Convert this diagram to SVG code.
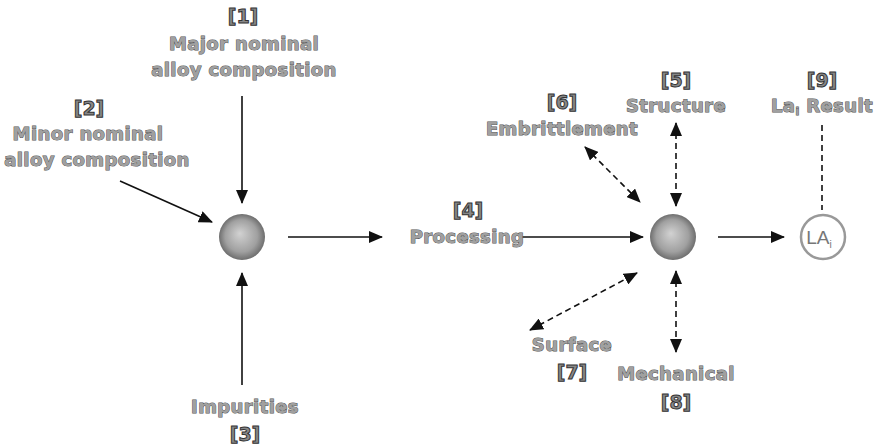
<svg xmlns="http://www.w3.org/2000/svg" width="875" height="447" viewBox="0 0 875 447">
<defs>
<radialGradient id="sph" cx="0.5" cy="0.5" r="0.5" fx="0.45" fy="0.42">
<stop offset="0" stop-color="#d2d2d2"/>
<stop offset="0.7" stop-color="#a0a0a0"/>
<stop offset="1" stop-color="#6e6e6e"/>
</radialGradient>
<marker id="ah" viewBox="0 0 14 12" refX="13" refY="6" markerWidth="14" markerHeight="12" markerUnits="userSpaceOnUse" orient="auto-start-reverse">
<path d="M0,0 L14,6 L0,12 Z" fill="#111"/>
</marker>
</defs>
<style>
.lbl{font-family:"DejaVu Sans",sans-serif;font-weight:bold;font-size:18px;letter-spacing:0.4px;fill:#a0a0a0;stroke:#555;stroke-width:1px;text-anchor:middle;paint-order:stroke}
.num{font-family:"DejaVu Sans",sans-serif;font-weight:bold;font-size:19px;fill:#888;stroke:#333;stroke-width:1px;text-anchor:middle}
.ln{stroke:#111;stroke-width:1.6;fill:none}
.dl{stroke:#111;stroke-width:1.6;fill:none;stroke-dasharray:6,4}
</style>
<rect width="875" height="447" fill="#fff"/>
<g id="connectors">
<line class="ln" x1="242" y1="96" x2="242" y2="203" marker-end="url(#ah)"/>
<line class="ln" x1="120" y1="181" x2="212" y2="222" marker-end="url(#ah)"/>
<line class="ln" x1="242" y1="385" x2="242" y2="273" marker-end="url(#ah)"/>
<line class="ln" x1="288" y1="237" x2="382" y2="237" marker-end="url(#ah)"/>
<line class="ln" x1="520" y1="237" x2="643" y2="237" marker-end="url(#ah)"/>
<line class="ln" x1="718" y1="237" x2="784" y2="237" marker-end="url(#ah)"/>
<line class="dl" x1="676" y1="123" x2="676" y2="206" marker-start="url(#ah)" marker-end="url(#ah)"/>
<line class="dl" x1="585" y1="147" x2="640" y2="202" marker-start="url(#ah)" marker-end="url(#ah)"/>
<line class="dl" x1="530" y1="330" x2="637" y2="273" marker-start="url(#ah)" marker-end="url(#ah)"/>
<line class="dl" x1="676" y1="271" x2="676" y2="352" marker-start="url(#ah)" marker-end="url(#ah)"/>
<line class="dl" x1="822" y1="125" x2="822" y2="210"/>
</g>
<g id="n1">
<text class="num" x="243" y="23">[1]</text>
<text class="lbl" x="244" y="50">Major nominal</text>
<text class="lbl" x="244" y="76">alloy composition</text>
</g>
<g id="n2">
<text class="num" x="89" y="115">[2]</text>
<text class="lbl" x="88" y="140">Minor nominal</text>
<text class="lbl" x="97" y="166">alloy composition</text>
</g>
<g id="sphere1"><circle cx="242" cy="237" r="23" fill="url(#sph)"/></g>
<g id="n3">
<text class="lbl" x="245" y="413">Impurities</text>
<text class="num" x="245" y="441">[3]</text>
</g>
<g id="n4">
<text class="num" x="468" y="217">[4]</text>
<text class="lbl" x="467" y="243">Processing</text>
</g>
<g id="sphere2"><circle cx="673" cy="237" r="23" fill="url(#sph)"/></g>
<g id="n5">
<text class="num" x="676" y="87">[5]</text>
<text class="lbl" x="676" y="112">Structure</text>
</g>
<g id="n6">
<text class="num" x="562" y="109">[6]</text>
<text class="lbl" x="562" y="135">Embrittlement</text>
</g>
<g id="n7">
<text class="lbl" x="572" y="351">Surface</text>
<text class="num" x="572" y="379">[7]</text>
</g>
<g id="n8">
<text class="lbl" x="676" y="380">Mechanical</text>
<text class="num" x="676" y="409">[8]</text>
</g>
<g id="n9">
<text class="num" x="822" y="87">[9]</text>
<text class="lbl" x="822" y="112">La<tspan font-size="11" dy="3">i</tspan><tspan dy="-3"> Result</tspan></text>
</g>
<g id="la">
<circle cx="823" cy="237" r="22" fill="#fff" stroke="#999" stroke-width="2.5"/>
<text x="819" y="244" font-family="Liberation Sans,sans-serif" font-size="19" fill="#777" text-anchor="middle">LA<tspan font-size="10" dy="4">i</tspan></text>
</g>
</svg>
